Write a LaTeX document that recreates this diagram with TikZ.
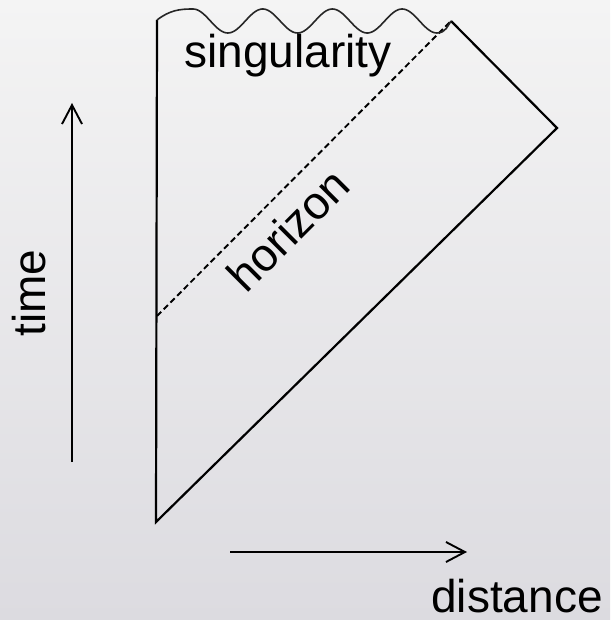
\documentclass[tikz,border=0pt]{standalone}
\usepackage{fontspec}
\setmainfont{Liberation Sans}
\usetikzlibrary{arrows.meta}
\definecolor{bgtop}{HTML}{F4F4F4}
\definecolor{bgbot}{HTML}{DCDBE0}
\begin{document}
\begin{tikzpicture}[x=1pt,y=-1pt,
  edge/.style={line width=2.2pt, black},
  hzn/.style={line width=1.9pt, black, dash pattern=on 6pt off 3.5pt},
  wave/.style={line width=1.6pt, black!85},
  axis/.style={line width=1.9pt, black, -{Straight Barb[length=19pt,width=20pt,line width=1.9pt]}},
  lbl/.style={font=\fontsize{46}{50}\selectfont, inner sep=0pt, text=black}]
\shade[top color=bgtop, bottom color=bgbot] (0,0) rectangle (610,620);
\useasboundingbox (0,0) rectangle (610,620);
\coordinate (B) at (156,522);
\coordinate (R) at (557,128);
\coordinate (T) at (451,21);
\coordinate (TL) at (157,20);
\coordinate (H) at (157,316);
\coordinate (t0) at (72,462);
\coordinate (t1) at (72,103);
\coordinate (d0) at (230,552);
\coordinate (d1) at (467,552);
\draw[edge] (TL) -- (B) -- (R) -- (T);
\draw[hzn] (H) -- (T);
\draw[wave] (TL) .. controls (170,10) and (180,9) .. (193,9)
  -- plot[domain=193:437, samples=150] (\x,{21-12*cos((\x-193)*5.165)})
  .. controls (446,33) and (448,25) .. (T);
\draw[axis] (t0) -- (t1);
\draw[axis] (d0) -- (d1);
\node[lbl, anchor=base] (sing) at (288,68) {singularity};
\node[lbl, rotate=45] (hor) at (288,230) {horizon};
\node[lbl, rotate=90] (time) at (29,293) {time};
\node[lbl, anchor=base] (dist) at (517,612) {distance};
\end{tikzpicture}
\end{document}
